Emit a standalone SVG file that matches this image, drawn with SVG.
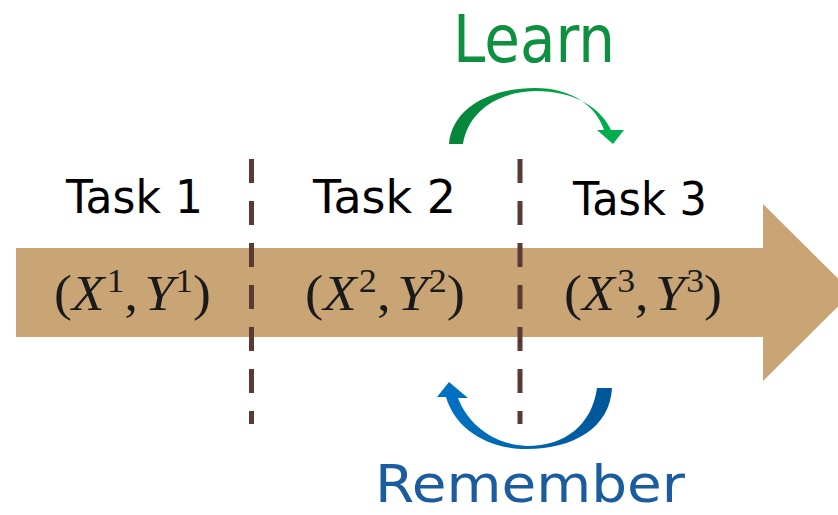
<svg xmlns="http://www.w3.org/2000/svg" width="838" height="515" viewBox="0 0 838 515">
<defs>
<style>
.task{font-family:"Comic Sans MS","DejaVu Sans",sans-serif;font-size:46px;fill:#000}
.math{font-family:"Liberation Serif","DejaVu Serif",serif;font-size:50px;fill:#1a1a1a}
.it{font-style:italic}
.sup{font-size:33px}
.div{stroke:#5a3b33;stroke-width:5;stroke-dasharray:24 18;fill:none}
</style>
<linearGradient id="gG" x1="0" y1="0" x2="1" y2="0">
<stop offset="0" stop-color="#07843a"/>
<stop offset="1" stop-color="#00b050"/>
</linearGradient>
<linearGradient id="gB" x1="0" y1="0" x2="1" y2="0">
<stop offset="0" stop-color="#0073c4"/>
<stop offset="1" stop-color="#005697"/>
</linearGradient>
</defs>
<rect width="838" height="515" fill="#fff"/>
<g id="timeline">
<polygon points="16,248 763,248 763,204 852,292.5 763,381 763,337 16,337" fill="#c9a474"/>
</g>
<g id="connectors">
<line class="div" x1="251.5" y1="159" x2="251.5" y2="424"/>
<line class="div" x1="520" y1="159" x2="520" y2="424"/>
</g>
<g id="task1">
<text class="task" x="66" y="213" textLength="137" lengthAdjust="spacingAndGlyphs">Task 1</text>
<text class="math" x="54" y="310" textLength="157" lengthAdjust="spacingAndGlyphs">(<tspan class="it">X</tspan><tspan class="sup" dx="2" dy="-18">1</tspan><tspan dy="18">,</tspan><tspan class="it" dx="6">Y</tspan><tspan class="sup" dx="1" dy="-18">1</tspan><tspan dy="18">)</tspan></text>
</g>
<g id="task2">
<text class="task" x="313" y="213" textLength="143" lengthAdjust="spacingAndGlyphs">Task 2</text>
<text class="math" x="305" y="310" textLength="160" lengthAdjust="spacingAndGlyphs">(<tspan class="it">X</tspan><tspan class="sup" dx="2" dy="-18">2</tspan><tspan dy="18">,</tspan><tspan class="it" dx="6">Y</tspan><tspan class="sup" dx="1" dy="-18">2</tspan><tspan dy="18">)</tspan></text>
</g>
<g id="task3">
<text class="task" x="573" y="215" textLength="134" lengthAdjust="spacingAndGlyphs">Task 3</text>
<text class="math" x="564" y="310" textLength="158" lengthAdjust="spacingAndGlyphs">(<tspan class="it">X</tspan><tspan class="sup" dx="2" dy="-18">3</tspan><tspan dy="18">,</tspan><tspan class="it" dx="6">Y</tspan><tspan class="sup" dx="1" dy="-18">3</tspan><tspan dy="18">)</tspan></text>
</g>
<g id="learn">
<path d="M449,144 C452,108 490,88 535,88 C572,88 596,106 604,130 L597,130 L613,144 L624,130 L611,130 C601,108 575,91 535,91 C497,92 468,112 463,144 Z" fill="url(#gG)"/>
<text x="453" y="62" textLength="162" lengthAdjust="spacingAndGlyphs" style="font-family:'Comic Sans MS','DejaVu Sans',sans-serif;font-size:66px;fill:#0f8f40">Learn</text>
</g>
<g id="remember">
<path d="M612,388 C610,428 573,449 527,449 C486,449 455,428 446,397 L437,397 L449,382 L468,398 L458,398 C468,425 495,445 527,446 C565,446 592,425 597,388 Z" fill="url(#gB)"/>
<text x="375" y="502" textLength="310" lengthAdjust="spacingAndGlyphs" style="font-family:'Comic Sans MS','DejaVu Sans',sans-serif;font-size:52px;fill:#1a5c9e">Remember</text>
</g>
</svg>
